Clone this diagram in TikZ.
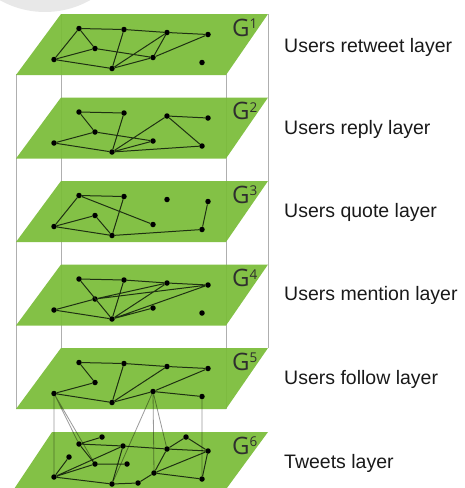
\documentclass[tikz,border=0pt]{standalone}
\usepackage{fontspec}
\setmainfont{Liberation Sans}
\newfontfamily\gfont{Open Sans}
\definecolor{planegreen}{RGB}{122,188,56}
\definecolor{edgecol}{RGB}{30,48,18}
\definecolor{boxgrey}{RGB}{175,175,175}
\definecolor{txtcol}{RGB}{25,25,25}
\newcommand\mkplane[2]{%
  \fill[plane] (61,#2) -- (268,#2) -- (226,{#2+61}) -- (16,{#2+61}) -- cycle;
  \node[glabel] (G#1) at (232,{#2+22}) {G{\fontsize{13.5}{14}\selectfont\raisebox{7.5pt}{#1}}};
}
\newcommand\mkusers[2]{%
  \node[vtx] (L#1a) at (79,{#2+14.5}) {};
  \node[vtx] (L#1b) at (124,{#2+15.5}) {};
  \node[vtx] (L#1c) at (167,{#2+18.5}) {};
  \node[vtx] (L#1d) at (208,{#2+20.5}) {};
  \node[vtx] (L#1e) at (95,{#2+34.5}) {};
  \node[vtx] (L#1f) at (54,{#2+45.5}) {};
  \node[vtx] (L#1g) at (153,{#2+43.5}) {};
  \node[vtx] (L#1h) at (112,{#2+54.5}) {};
  \node[vtx] (L#1i) at (202,{#2+48.5}) {};
}
\begin{document}
\begin{tikzpicture}[x=1pt,y=-1pt,
  plane/.style={fill=planegreen, fill opacity=0.93},
  vtx/.style={circle, fill=black, inner sep=0pt, minimum size=5.5pt},
  edge/.style={draw=edgecol, line width=1pt},
  link/.style={draw=black, draw opacity=0.4, line width=0.8pt},
  boxline/.style={draw=boxgrey, line width=0.8pt},
  layerlabel/.style={anchor=base west, font=\fontsize{19.5}{22}\selectfont, text=txtcol, inner sep=0pt},
  glabel/.style={anchor=base west, font=\gfont\fontsize{24}{26}\selectfont, text=black!82, inner sep=0pt}]

\useasboundingbox (0,0) rectangle (464,488);
\fill[black!9] (45,-80) circle (92);

% box edges
\draw[boxline] (16,74) -- (16,409);
\draw[boxline] (61,14) -- (61,348);
\draw[boxline] (226,74) -- (226,409);
\draw[boxline] (268,14) -- (268,348);

% layer 1
\mkplane{1}{14}
\mkusers{1}{14}
\draw[edge] (L1a) -- (L1b) -- (L1c) -- (L1d);
\draw[edge] (L1a) -- (L1e) (L1a) -- (L1f) (L1f) -- (L1e) (L1e) -- (L1g)
  (L1f) -- (L1h) (L1b) -- (L1h) (L1h) -- (L1g) (L1h) -- (L1c) (L1c) -- (L1g) (L1g) -- (L1d);

% layer 2
\mkplane{2}{97.5}
\mkusers{2}{97.5}
\draw[edge] (L2a) -- (L2b) (L2a) -- (L2e) (L2f) -- (L2e) (L2e) -- (L2g)
  (L2f) -- (L2h) (L2b) -- (L2h) (L2h) -- (L2c) (L2h) -- (L2g) (L2c) -- (L2d)
  (L2c) -- (L2i) (L2h) -- (L2i);

% layer 3
\mkplane{3}{181}
\mkusers{3}{181}
\draw[edge] (L3a) -- (L3b) (L3a) -- (L3g) (L3a) -- (L3f) (L3f) -- (L3e) (L3e) -- (L3h)
  (L3f) -- (L3h) (L3b) -- (L3h) (L3h) -- (L3i) (L3i) -- (L3d);

% layer 4
\mkplane{4}{264.5}
\mkusers{4}{264.5}
\draw[edge] (L4a) -- (L4b) -- (L4c) -- (L4d);
\draw[edge] (L4a) -- (L4h) (L4f) -- (L4e) (L4e) -- (L4c) (L4e) -- (L4d) (L4f) -- (L4h)
  (L4b) -- (L4h) (L4h) -- (L4c) (L4h) -- (L4d) (L4h) -- (L4g);

% layer 5
\mkplane{5}{348}
\mkusers{5}{348}
\draw[edge] (L5a) -- (L5b) -- (L5c) -- (L5d);
\draw[edge] (L5a) -- (L5e) (L5e) -- (L5f) (L5f) -- (L5h) (L5b) -- (L5h) (L5h) -- (L5c)
  (L5h) -- (L5g) (L5g) -- (L5d) (L5g) -- (L5i);

% layer 6 (tweets)
\fill[plane] (52,432) -- (268,432) -- (224,492) -- (12,492) -- cycle;
\node[glabel] (G6) at (232,454) {G{\fontsize{13.5}{14}\selectfont\raisebox{7.5pt}{6}}};
\node[vtx] (T6a) at (102,437) {};
\node[vtx] (T6b) at (79,444) {};
\node[vtx] (T6c) at (123,446) {};
\node[vtx] (T6d) at (186,437) {};
\node[vtx] (T6e) at (167,449) {};
\node[vtx] (T6f) at (208,451) {};
\node[vtx] (T6g) at (69,457) {};
\node[vtx] (T6h) at (95,464) {};
\node[vtx] (T6i) at (127,464) {};
\node[vtx] (T6j) at (154,473) {};
\node[vtx] (T6k) at (54,477) {};
\node[vtx] (T6l) at (112,484) {};
\node[vtx] (T6m) at (138,483) {};
\node[vtx] (T6n) at (202,479) {};
\draw[edge] (T6a) -- (T6b) (T6b) -- (T6h) (T6b) -- (T6c) (T6g) -- (T6k) (T6k) -- (T6c)
  (T6k) -- (T6h) (T6k) -- (T6l) (T6h) -- (T6i) (T6c) -- (T6l) (T6c) -- (T6e)
  (T6e) -- (T6d) (T6d) -- (T6f) (T6e) -- (T6f) (T6e) -- (T6j) (T6j) -- (T6f)
  (T6j) -- (T6n) (T6f) -- (T6n) (T6l) -- (T6m) (T6m) -- (T6j);

% inter-layer links
\draw[link] (L5f) -- (T6k) (L5f) -- (T6b) (L5f) -- (T6h)
  (L5g) -- (T6l) (L5g) -- (T6j) (L5g) -- (T6e) (L5i) -- (T6n);

% labels
\node[layerlabel] (t1) at (284,52) {Users retweet layer};
\node[layerlabel] (t2) at (284,134) {Users reply layer};
\node[layerlabel] (t3) at (284,217) {Users quote layer};
\node[layerlabel] (t4) at (284,300) {Users mention layer};
\node[layerlabel] (t5) at (284,384) {Users follow layer};
\node[layerlabel] (t6) at (284,468) {Tweets layer};
\end{tikzpicture}
\end{document}
